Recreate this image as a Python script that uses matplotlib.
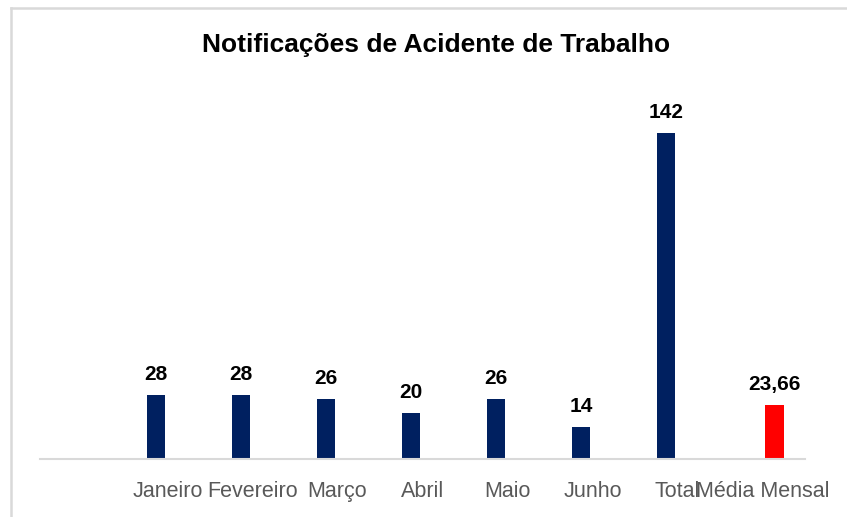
import matplotlib.pyplot as plt
import matplotlib.font_manager as fm
from matplotlib.lines import Line2D

# dados
categorias = ['', 'Janeiro', 'Fevereiro', 'Março', 'Abril', 'Maio', 'Junho', 'Total', 'Média Mensal']
notificacoes = [28, 28, 26, 20, 26, 14, 142]   # Janeiro .. Total
media_mensal = 23.66
rotulo_media = '23,66'

azul = '#002060'
vermelho = '#ff0000'

nomes = set(f.name for f in fm.fontManager.ttflist)
fonte_eixo = 'Liberation Sans Narrow' if 'Liberation Sans Narrow' in nomes else 'Liberation Sans'

W, H = 847, 517
fig = plt.figure(figsize=(W / 100, H / 100), dpi=100)
ax = fig.add_axes([40 / W, (H - 459) / H, 765 / W, 359 / H])

x_azul = [i - 0.135 for i in range(1, 8)]
x_verm = 8 + 0.14
larg = 0.22

ax.bar(x_azul, notificacoes, width=larg, color=azul)
ax.bar([x_verm], [media_mensal], width=larg, color=vermelho)

# rotulos dos valores
for x, v in zip(x_azul, notificacoes):
    ax.annotate(str(v), (x, v), xytext=(0, 10.8), textcoords='offset points',
                ha='center', va='baseline', fontsize=15, fontweight='bold',
                family='Liberation Sans')
ax.annotate(rotulo_media, (x_verm, media_mensal), xytext=(0, 10.8), textcoords='offset points',
            ha='center', va='baseline', fontsize=15, fontweight='bold',
            family='Liberation Sans')

ax.set_xlim(-0.5, 8.5)
ax.set_ylim(0, 156.4)
ax.set_xticks(range(len(categorias)))
ax.set_xticklabels(categorias, fontsize=15.5, color='#595959', family=fonte_eixo)
ax.tick_params(axis='x', length=0, pad=16)
ax.set_yticks([])
for s in ['top', 'right', 'left']:
    ax.spines[s].set_visible(False)
ax.spines['bottom'].set_color('#d9d9d9')
ax.spines['bottom'].set_linewidth(1.5)

fig.text(436 / W, 1 - 45 / H, 'Notificações de Acidente de Trabalho', ha='center', va='center',
         fontsize=19, fontweight='bold', family='Liberation Sans')

# borda do gráfico
fig.add_artist(Line2D([11 / W, 11 / W], [0, 1 - 8 / H], color='#d9d9d9', lw=1.8))
fig.add_artist(Line2D([11 / W, 1], [1 - 8 / H, 1 - 8 / H], color='#d9d9d9', lw=1.8))

fig.savefig('out.png', dpi=100)
